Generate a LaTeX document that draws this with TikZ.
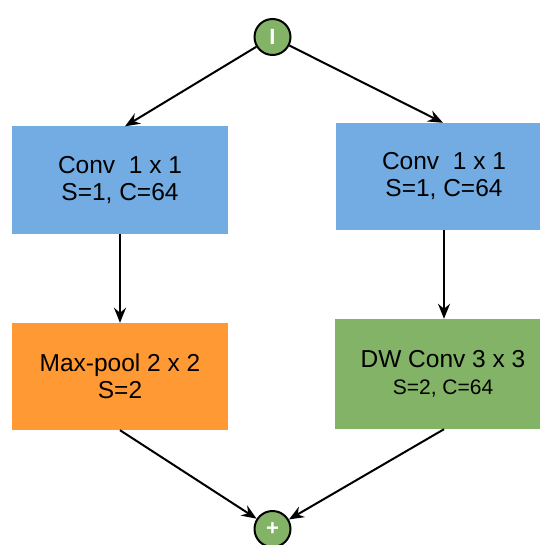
\documentclass[tikz,border=0pt]{standalone}
\usepackage{fontspec}
\setmainfont{Liberation Sans}
\usetikzlibrary{arrows.meta}
\definecolor{convblue}{HTML}{72ACE3}
\definecolor{poolorange}{HTML}{FF9933}
\definecolor{dwgreen}{HTML}{82B366}
\tikzset{
  layer/.style={minimum width=216pt, minimum height=107pt, inner sep=0pt,
    align=center, font=\fontsize{24.5}{27}\selectfont},
  junction/.style={circle, draw=black, line width=2pt, fill=dwgreen,
    minimum size=36pt, inner sep=0pt, text=white,
    font=\fontsize{22}{22}\selectfont\bfseries},
  flow/.style={line width=2pt, -{Stealth[length=15pt,width=12pt,inset=5pt]}}
}
\begin{document}
\begin{tikzpicture}[x=1pt,y=-1pt]
  \useasboundingbox (0,0) rectangle (539,545);
  % input and merge points
  \node[junction] (in) at (272.5,37) {I};
  \node[junction] (sum) at (272.5,529) {+};
  % left branch
  \node[layer, fill=convblue] (convL) at (120,180) {Conv\ \ 1 x 1\\S=1, C=64};
  \node[layer, fill=poolorange] (pool) at (120,376.5) {Max-pool 2 x 2\\S=2};
  % right branch
  \node[layer, fill=convblue] (convR) at (444,176.5) {Conv\ \ 1 x 1\\S=1, C=64};
  \node[layer, fill=dwgreen, minimum height=110pt] (dw) at (443,374)
    {DW Conv 3 x 3\\{\fontsize{21}{22}\selectfont S=2, C=64}};
  % connectors
  \draw[flow] (in) -- ([xshift=5pt]convL.north);
  \draw[flow] (in) -- ([xshift=-1pt]convR.north);
  \draw[flow] (convL.south) -- (pool.north);
  \draw[flow] (convR.south) -- ([xshift=1pt]dw.north);
  \draw[flow] (pool.south) -- (sum);
  \draw[flow] ([xshift=1pt]dw.south) -- (sum);
\end{tikzpicture}
\end{document}
